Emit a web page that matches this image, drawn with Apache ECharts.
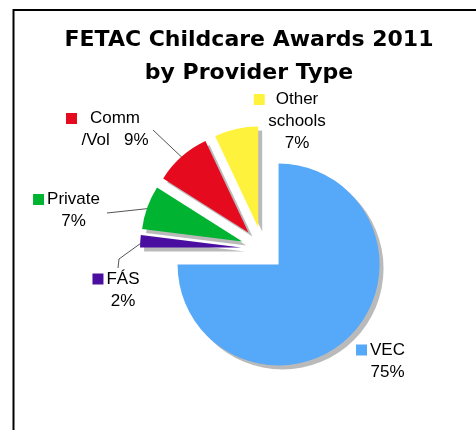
<!DOCTYPE html>
<html><head><meta charset="utf-8">
<script src="https://cdn.jsdelivr.net/npm/echarts@6/dist/echarts.min.js"></script>
<style>html,body{margin:0;padding:0;background:#fff}#c{width:476px;height:430px}</style>
</head><body><div id="c"></div>
<script>
// ---- data ----
const categories = ['VEC', 'FÁS', 'Private', 'Comm /Vol', 'Other schools'];
const values = [75, 2, 7, 9, 7];
const labelNameLines = [['VEC'], ['FÁS'], ['Private'], ['Comm', '/Vol'], ['Other', 'schools']];
const colors = ['#56A8F8', '#4A0FA0', '#00B432', '#E60A1E', '#FFF23C'];

// ---- layout ----
const CX = 263, CY = 249, R = 101, OFF = 22;
const labelLayoutCfg = [
  { x: 387.5, y: 361, gap: 3, inline: false, line: null },
  { x: 123, y: 290, gap: 3, inline: false, line: [[119, 259], [118, 268]] },
  { x: 73.5, y: 210.5, gap: 3, inline: false, line: [[107, 213], [107, 213]] },
  { x: 115, y: 129.5, gap: 13, inline: true, line: [[153, 130], [153, 130]] },
  { x: 297, y: 121.5, gap: 11, inline: false, line: null }
];
const SQ = 11;

const total = values.reduce((a, b) => a + b, 0);
function midDir(i) {
  let before = 0;
  for (let k = 0; k < i; k++) before += values[k];
  const mid = (before + values[i] / 2) / total * 2 * Math.PI;
  return [Math.sin(mid), -Math.cos(mid)];
}
function sliceCenter(i) {
  const d = midDir(i);
  return [CX + OFF * d[0], CY + OFF * d[1]];
}
function arcPoint(i) {
  const d = midDir(i), c = sliceCenter(i);
  return [c[0] + (R - 3) * d[0], c[1] + (R - 3) * d[1]];
}

const rich = {};
labelLayoutCfg.forEach((L, i) => {
  rich['sq' + i] = { width: SQ, height: SQ, backgroundColor: colors[i] };
  rich['g' + i] = { width: L.gap, height: SQ };
  rich['t' + i] = { width: SQ + L.gap, height: SQ };
});
const baseTxt = { fontFamily: 'Liberation Sans, Arial, sans-serif', fontSize: 17, color: '#000', lineHeight: 22 };
const shadow = { shadowColor: 'rgba(0,0,0,0.27)', shadowOffsetX: 4, shadowOffsetY: 4, shadowBlur: 0, borderWidth: 0 };
const hidden = { color: 'rgba(0,0,0,0)', shadowColor: 'rgba(0,0,0,0)', borderWidth: 0 };

function labelText(i, p) {
  const L = labelLayoutCfg[i];
  const pct = Math.round(p.percent) + '%';
  const ls = labelNameLines[i].slice();
  ls[0] = '{sq' + i + '|}{g' + i + '|}' + ls[0] + '{t' + i + '|}';
  if (L.inline) ls[ls.length - 1] = ls[ls.length - 1] + '   ' + pct;
  else ls.push(pct);
  return ls.join('\n');
}

const series = categories.map((cat, i) => ({
  type: 'pie',
  name: cat,
  center: sliceCenter(i),
  radius: R,
  startAngle: 90,
  clockwise: true,
  avoidLabelOverlap: false,
  emphasis: { disabled: true },
  silent: true,
  label: Object.assign({ show: true, position: 'outside', align: 'center', rich: rich }, baseTxt),
  labelLine: { show: true, lineStyle: { color: '#555', width: 1 } },
  labelLayout: function (p) {
    const L = labelLayoutCfg[p.dataIndex];
    const r = { x: L.x, y: L.y, align: 'center', verticalAlign: 'middle' };
    if (L.line) r.labelLinePoints = [arcPoint(p.dataIndex), L.line[0], L.line[1]];
    return r;
  },
  data: categories.map((name, k) => k === i ? {
    name: name, value: values[k],
    itemStyle: Object.assign({ color: colors[k] }, shadow),
    label: { show: true, formatter: p => labelText(k, p) },
    labelLine: { show: !!labelLayoutCfg[k].line }
  } : {
    name: name, value: values[k],
    itemStyle: hidden,
    label: { show: false },
    labelLine: { show: false }
  })
}));

const chart = echarts.init(document.getElementById('c'), null, { renderer: 'canvas' });
chart.setOption({
  animation: false,
  backgroundColor: '#fff',
  title: {
    text: 'FETAC Childcare Awards 2011\nby Provider Type',
    left: 244, top: 19, textAlign: 'center',
    textStyle: { fontFamily: 'DejaVu Sans', fontWeight: 'bold', fontSize: 22, lineHeight: 33, color: '#000' }
  },
  graphic: [{
    type: 'rect', silent: true, x: 0, y: 0,
    shape: { x: 13.5, y: 10, width: 600, height: 600 },
    style: { fill: 'none', stroke: '#000', lineWidth: 2 }
  }],
  series: series
});
</script>
</body></html>
